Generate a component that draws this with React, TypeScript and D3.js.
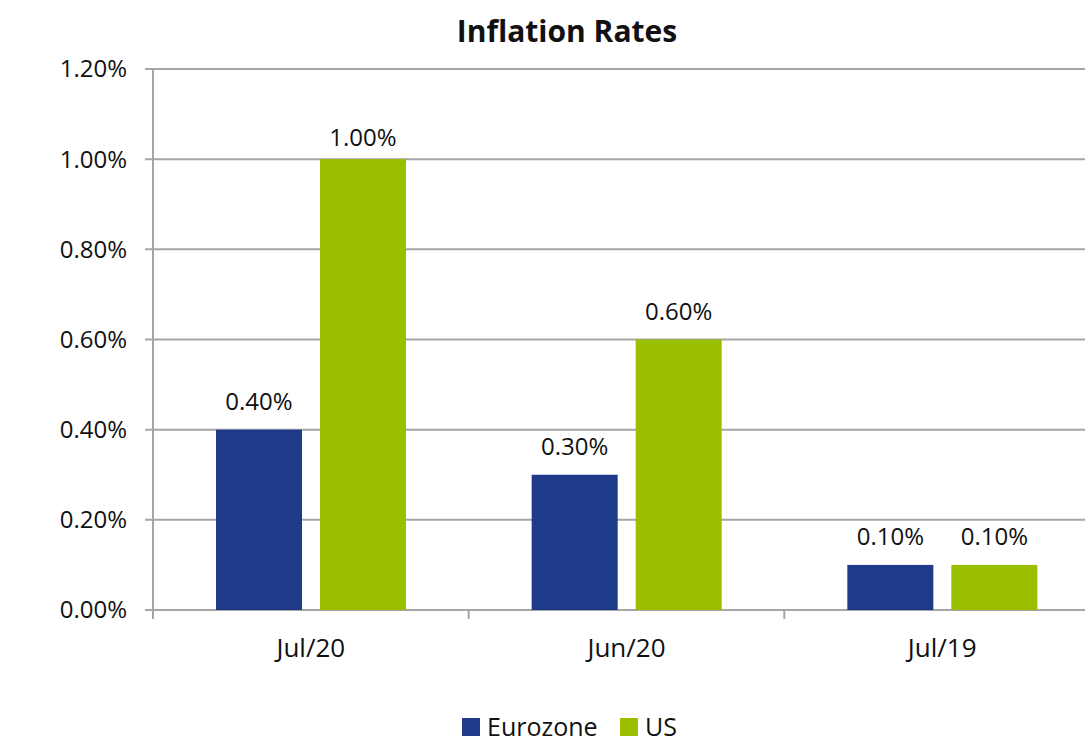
import React from "react";
import * as d3 from "d3";

const categories = ["Jul/20", "Jun/20", "Jul/19"];
const seriesNames = ["Eurozone", "US"];
const eurozone = [0.4, 0.3, 0.1];
const us = [1.0, 0.6, 0.1];
const yTicks = [0, 0.2, 0.4, 0.6, 0.8, 1.0, 1.2];
const colors = ["#1f3a89", "#99bf00"];

const W = 1085;
const H = 742;
const left = 153;
const right = 1100;
const top = 69;
const bottom = 610;
const font = "'Open Sans', 'Liberation Sans', sans-serif";

export default function App() {
  const x = d3.scaleBand<string>().domain(categories).range([left, right]);
  const y = d3.scaleLinear().domain([0, 1.2]).range([bottom, top]);
  const bw = 86;
  const offsets = [63, 167];
  const series = [eurozone, us];
  const fmt = (v: number) => v.toFixed(2) + "%";
  return (
    <svg width={W} height={H} style={{ position: "absolute", left: 0, top: 0, background: "#fff" }} fontFamily={font}>
      <text x={567} y={31} dy="0.35em" textAnchor="middle" fontSize={30} fontWeight="bold" fill="#111">Inflation Rates</text>
      {yTicks.map((t) => (
        <g key={t}>
          <line x1={145} x2={W} y1={y(t)} y2={y(t)} stroke="#a6a6a6" strokeWidth={2} />
          <text x={127} y={y(t)} dy="0.35em" textAnchor="end" fontSize={24} fill="#111">{fmt(t)}</text>
        </g>
      ))}
      <line x1={153} x2={153} y1={top} y2={bottom} stroke="#a6a6a6" strokeWidth={2} />
      {categories.map((c) => (
        <line key={c} x1={x(c)!} x2={x(c)!} y1={bottom} y2={bottom + 9} stroke="#a6a6a6" strokeWidth={2} />
      ))}
      <line x1={right} x2={right} y1={bottom} y2={bottom + 9} stroke="#a6a6a6" strokeWidth={2} />
      {series.map((s, si) =>
        s.map((v, i) => {
          const bx = x(categories[i])! + offsets[si];
          const ly = Math.max(y(v) - 28, top + 69);
          return (
            <g key={si + "-" + i}>
              <rect x={bx} y={y(v)} width={bw} height={bottom - y(v)} fill={colors[si]} />
              <text x={bx + bw / 2} y={ly} dy="0.35em" textAnchor="middle" fontSize={24} fill="#111">{fmt(v)}</text>
            </g>
          );
        })
      )}
      {categories.map((c) => (
        <text key={c} x={x(c)! + x.bandwidth() / 2} y={648} dy="0.35em" textAnchor="middle" fontSize={26} fill="#111">{c}</text>
      ))}
      <g>
        <rect x={462} y={718} width={18} height={18} fill={colors[0]} />
        <text x={487} y={727} dy="0.35em" fontSize={25} fill="#111">{seriesNames[0]}</text>
        <rect x={620} y={718} width={18} height={18} fill={colors[1]} />
        <text x={645} y={727} dy="0.35em" fontSize={25} fill="#111">{seriesNames[1]}</text>
      </g>
    </svg>
  );
}
